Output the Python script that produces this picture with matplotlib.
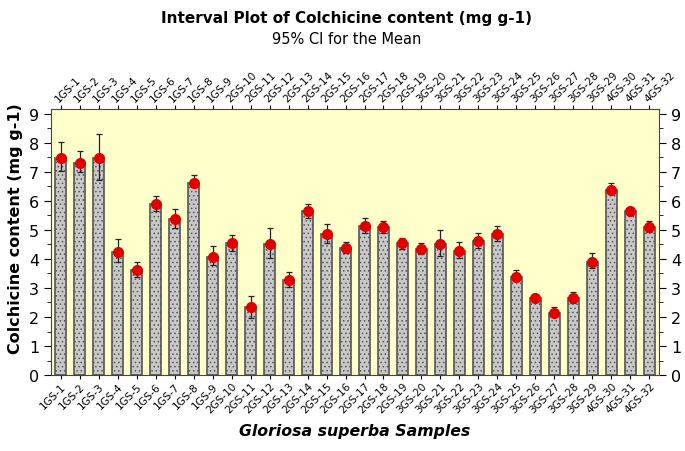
import numpy as np
import matplotlib.pyplot as plt
from matplotlib.ticker import MultipleLocator

samples = (["1GS-%d" % i for i in range(1, 10)] + ["2GS-%d" % i for i in range(10, 20)]
           + ["3GS-%d" % i for i in range(20, 30)] + ["4GS-%d" % i for i in range(30, 33)])

means = [7.48, 7.29, 7.46, 4.25, 3.62, 5.88, 5.37, 6.63, 4.07, 4.54,
         2.33, 4.51, 3.28, 5.65, 4.85, 4.36, 5.13, 5.09, 4.54, 4.33,
         4.50, 4.28, 4.62, 4.85, 3.39, 2.67, 2.15, 2.65, 3.91, 6.39,
         5.65, 5.10]
ci_upper = [8.03, 7.72, 8.32, 4.67, 3.91, 6.17, 5.72, 6.88, 4.44, 4.82,
            2.74, 5.05, 3.56, 5.90, 5.19, 4.59, 5.42, 5.30, 4.73, 4.54,
            4.98, 4.57, 4.90, 5.13, 3.62, 2.78, 2.36, 2.87, 4.19, 6.60,
            5.77, 5.31]
ci_lower = [7.02, 6.98, 6.71, 3.91, 3.39, 5.65, 5.05, 6.48, 3.79, 4.27,
            1.98, 4.04, 3.02, 5.42, 4.56, 4.19, 4.90, 4.90, 4.34, 4.16,
            4.10, 4.04, 4.36, 4.62, 3.24, 2.55, 2.02, 2.47, 3.68, 6.22,
            5.53, 4.94]

means = np.array(means)
yerr = [means - np.array(ci_lower), np.array(ci_upper) - means]
x = np.arange(len(samples))

plt.rcParams['hatch.color'] = '#6a6a6a'
plt.rcParams['hatch.linewidth'] = 0.6

fig = plt.figure(figsize=(6.85, 4.52), dpi=100)
ax = fig.add_axes([0.0745, 0.168, 0.8875, 0.589])
ax.set_facecolor('#ffffcc')

ax.bar(x, means, width=0.55, color='#c8c8c8', edgecolor='#555555', linewidth=1.2, hatch='....', zorder=2)
ax.errorbar(x, means, yerr=yerr, fmt='none', ecolor='#222222', elinewidth=0.9, capsize=2.5, capthick=0.9, zorder=3)
ax.plot(x, means, 'o', color='#e00000', markersize=7, zorder=4)

ax.set_xlim(-0.5, 31.5)
ax.set_ylim(0, 9.17)
ax.yaxis.set_major_locator(MultipleLocator(1))
ax.yaxis.set_minor_locator(MultipleLocator(0.5))
ax.tick_params(axis='y', which='both', left=True, right=True, labelright=True, labelsize=11.5, direction='out')
ax.tick_params(axis='y', which='major', length=5)
ax.tick_params(axis='y', which='minor', length=3)
ax.tick_params(axis='x', top=True, labeltop=True, length=3, labelsize=7.5, pad=1)
ax.set_xticks(x)
ax.set_xticklabels(samples)
for lab in ax.get_xticklabels():
    lab.set_rotation(45)
    lab.set_ha('right')
    lab.set_rotation_mode('anchor')
for t in ax.xaxis.get_major_ticks():
    t.label2.set_rotation(45)
    t.label2.set_ha('left')
    t.label2.set_rotation_mode('anchor')
for s in ax.spines.values():
    s.set_color('#444444')

ax.set_ylabel("Colchicine content (mg g-1)", fontsize=11.5, fontweight='bold')
ax.yaxis.set_label_coords(-0.046, 0.555)
ax.set_xlabel("Gloriosa superba Samples", fontsize=11.3, fontweight='bold', fontstyle='italic', labelpad=6)
fig.text(0.506, 0.96, "Interval Plot of Colchicine content (mg g-1)", ha='center', va='center', fontsize=11, fontweight='bold')
fig.text(0.506, 0.912, "95% CI for the Mean", ha='center', va='center', fontsize=10.5)

fig.savefig('out.png', dpi=100)
